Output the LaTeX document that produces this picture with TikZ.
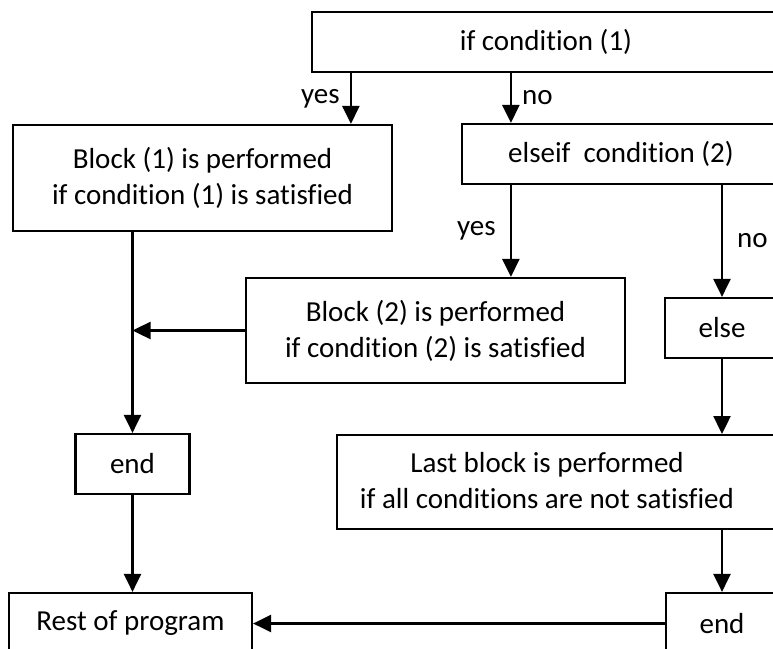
\documentclass[tikz,border=0pt]{standalone}
\usepackage{fontspec}
\setmainfont{Carlito}[Ligatures=CommonOff]
\usetikzlibrary{arrows.meta}

\tikzset{
  box/.style={draw, line width=2.2pt, inner sep=0pt, align=center,
    font=\fontsize{29}{36}\selectfont},
  txt/.style={inner sep=0pt, align=center, font=\fontsize{29}{36}\selectfont},
  arr/.style={-{Triangle[length=18pt,width=17pt]}, line width=2.4pt},
}

\begin{document}
\begin{tikzpicture}[x=1pt,y=-1pt,line width=2.2pt]
\useasboundingbox (0,0) rectangle (773,648);
\clip (0,0) rectangle (773,648);
%top
\node[box,minimum width=468,minimum height=60] (if1) at (546,42) {if condition (1)};
%left column
\node[box,minimum width=379,minimum height=106] (blk1) at (202.5,178)
  {Block (1) is performed\\if condition (1) is satisfied};
\node[box,minimum width=114,minimum height=60] (end1) at (132.5,464) {end};
\node[box,minimum width=243,minimum height=61] (rest) at (130.5,623.5) {Rest of program};
%middle
\node[box,minimum width=318,minimum height=60] (elif) at (621,154) {elseif\ \ condition (2)};
\node[box,minimum width=379,minimum height=105] (blk2) at (435.5,330.5)
  {Block (2) is performed\\if condition (2) is satisfied};
%right column
\node[box,minimum width=114,minimum height=60] (else) at (722,328) {else};
\node[box,minimum width=460,minimum height=94,anchor=north west] (last) at (336,434) {};
\node[txt] (lasttxt) at (547,481) {Last block is performed\\if all conditions are not satisfied};
\node[box,minimum width=112,minimum height=61] (end2) at (722,623.5) {end};
%arrows
\draw[arr] ([xshift=40pt]if1.south west) -- ([xshift=40pt]if1.south west |- blk1.north)
  node[txt,midway,left=10pt] (y1) {yes};
\draw[arr] ([xshift=50pt]elif.north west |- if1.south) -- ([xshift=50pt]elif.north west)
  node[txt,midway,right=10pt] (n1) {no};
\draw[arr] ([xshift=50pt]elif.south west) -- ([xshift=50pt]elif.south west |- blk2.north)
  node[txt,midway,left=14pt] (y2) {yes};
\draw[arr] (elif.south -| else.north) -- (else.north)
  node[txt,midway,right=14pt] (n2) {no};
\draw[arr] (blk1.south -| end1.north) -- (end1.north);
\draw[arr] (blk2.west) -- (blk2.west -| end1.north);
\draw[arr] (end1.south) -- (end1.south |- rest.north);
\draw[arr] (else.south) -- (else.south |- last.north);
\draw[arr] (last.south -| end2.north) -- (end2.north);
\draw[arr] (end2.west) -- (rest.east);
\end{tikzpicture}
\end{document}
